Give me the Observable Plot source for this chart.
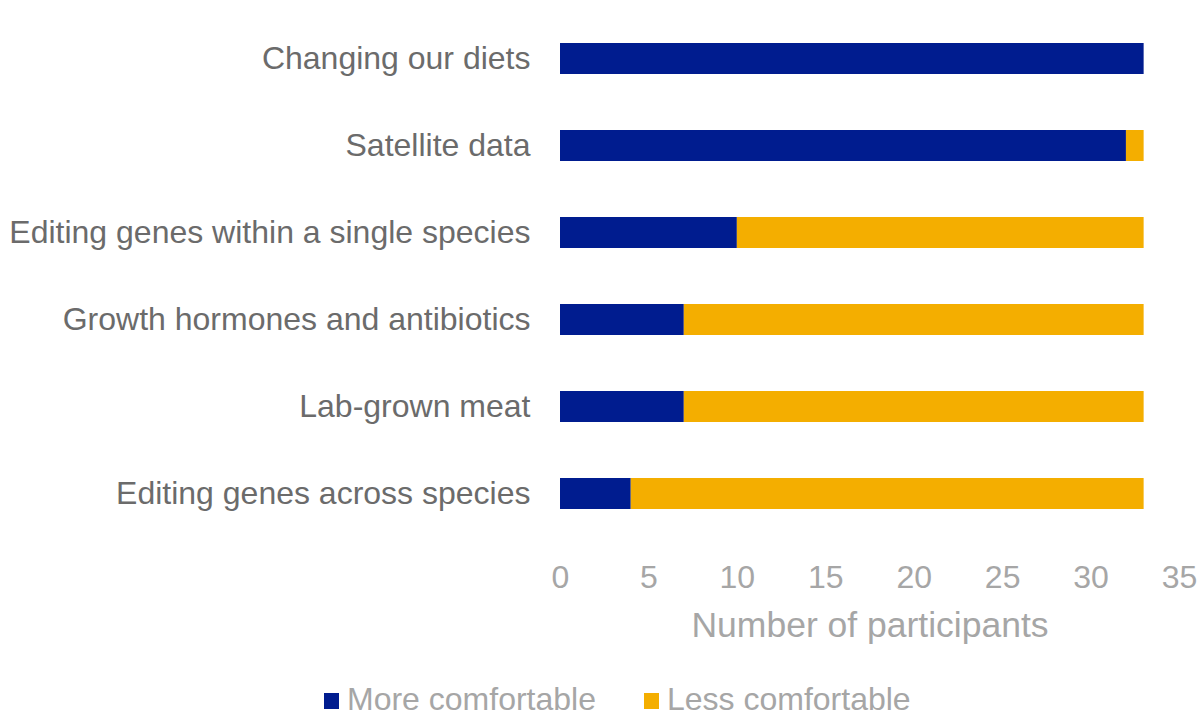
<!DOCTYPE html>
<html>
<head>
<meta charset="utf-8">
<script src="https://cdn.jsdelivr.net/npm/d3@7"></script>
<script src="https://cdn.jsdelivr.net/npm/@observablehq/plot@0.6"></script>
<style>
  html, body { margin: 0; padding: 0; background: #fff; }
  #wrap { position: relative; width: 1199px; height: 716px; font-family: "Liberation Sans", Arial, sans-serif; }
  #legend { position: absolute; left: 324px; top: 681px; display: flex; align-items: center; font-size: 32px; color: #a6a6a6; white-space: nowrap; }
  #legend .item { display: flex; align-items: center; margin-right: 48px; }
  #legend .sw { width: 15px; height: 16px; margin-right: 8px; margin-top: 2px; }
</style>
</head>
<body>
<div id="wrap"></div>
<script>
// Survey responses: how comfortable participants felt with each approach
const categories = [
  "Changing our diets",
  "Satellite data",
  "Editing genes within a single species",
  "Growth hormones and antibiotics",
  "Lab-grown meat",
  "Editing genes across species"
];
const moreComfortable = [33, 32, 10, 7, 7, 4];
const lessComfortable = [0, 1, 23, 26, 26, 29];
const seriesNames = ["More comfortable", "Less comfortable"];
const seriesColors = ["#001c8f", "#f4ae00"];
const xTicks = [0, 5, 10, 15, 20, 25, 30, 35];

const rows = [];
categories.forEach((c, i) => {
  rows.push({category: c, group: seriesNames[0], value: moreComfortable[i]});
  rows.push({category: c, group: seriesNames[1], value: lessComfortable[i]});
});

const chart = Plot.plot({
  width: 1199,
  height: 665,
  marginLeft: 560,
  marginRight: 20,
  marginTop: 13,
  marginBottom: 126,
  style: {fontFamily: "'Liberation Sans', Arial, sans-serif", fontSize: "32px", background: "#fff"},
  x: {domain: [0, 35], ticks: xTicks},
  y: {domain: categories, paddingInner: 0.647, paddingOuter: 0.3235},
  color: {domain: seriesNames, range: seriesColors},
  marks: [
    Plot.gridX(xTicks, {stroke: "#e3e3e3", strokeOpacity: 1, strokeWidth: 1.5, y1: 10, y2: 540}),
    Plot.barX(rows, Plot.stackX({x: "value", y: "category", fill: "group", order: seriesNames})),
    Plot.axisY({tickSize: 0, tickPadding: 30, fill: "#6b6b6b", label: null, fontSize: 32}),
    Plot.axisX(xTicks, {tickSize: 0, tickPadding: 26, fill: "#a6a6a6", label: null, fontSize: 32}),
    Plot.text(["Number of participants"], {frameAnchor: "bottom", dy: 86, fill: "#a6a6a6", fontSize: 35.5, lineAnchor: "middle"})
  ]
});

const wrap = document.getElementById("wrap");
wrap.appendChild(chart);

// Legend row below the plot
const legend = document.createElement("div");
legend.id = "legend";
seriesNames.forEach((name, i) => {
  const item = document.createElement("div");
  item.className = "item";
  const sw = document.createElement("span");
  sw.className = "sw";
  sw.style.background = seriesColors[i];
  const label = document.createElement("span");
  label.textContent = name;
  item.appendChild(sw);
  item.appendChild(label);
  legend.appendChild(item);
});
wrap.appendChild(legend);
</script>
</body>
</html>
